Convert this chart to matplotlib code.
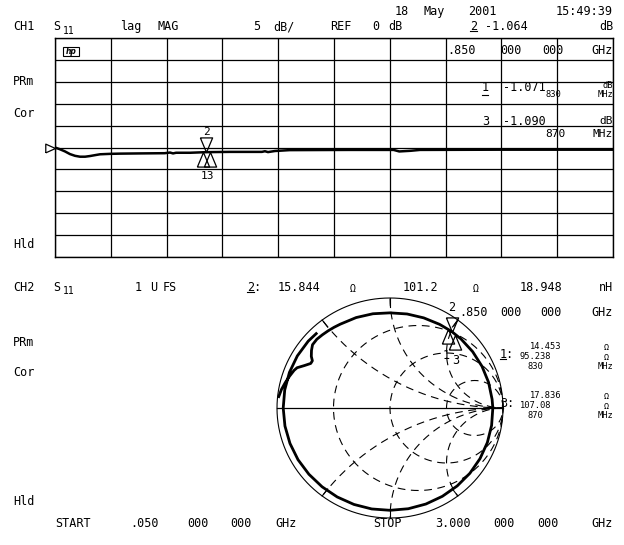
import numpy as np
import matplotlib
matplotlib.use("Agg")
import matplotlib.pyplot as plt
from matplotlib.lines import Line2D
from matplotlib.patches import Rectangle

W, H = 624, 545

# ---------------- data ----------------
# CH1: S11 log magnitude trace (GHz, dB)
freq_ghz = [0.05, 0.076, 0.103, 0.129, 0.156, 0.182, 0.209, 0.235, 0.261, 0.288,
            0.341, 0.394, 0.50, 0.63, 0.658, 0.674, 0.69, 0.764, 0.85, 0.975,
            1.144, 1.16, 1.176, 1.213, 1.29, 1.61, 1.84, 1.87, 1.93, 1.98, 2.40, 3.0]
s11_db = [0.0, -0.4, -0.9, -1.5, -1.9, -2.1, -2.1, -1.95, -1.75, -1.55,
          -1.45, -1.4, -1.35, -1.3, -1.15, -1.35, -1.2, -1.2, -1.06, -1.0,
          -1.0, -0.85, -1.05, -0.8, -0.6, -0.55, -0.55, -0.9, -0.75, -0.55, -0.5, -0.5]
f_start, f_stop = 0.05, 3.0
db_ref, db_per_div = 0.0, 5.0

marker_ids = ["1", "2", "3"]
marker_freq = [0.83, 0.85, 0.87]
marker_db = [-1.071, -1.064, -1.090]

# CH2: Smith chart trace (reflection coefficient angle in deg, magnitude)
smith_angle = [174, 170, 166, 162, 158, 156, 153, 150, 148, 146, 143, 140, 136, 132,
               128, 124, 120, 110, 100, 90, 80, 70, 60, 52, 45, 35, 25, 15, 5, 0,
               -10, -20, -30, -40, -50, -60, -70, -80, -90, -100, -110, -120, -130,
               -140, -150, -160, -170, -180, -190, -200, -210, -220, -226]
smith_mag = [0.99, 0.975, 0.955, 0.935, 0.915, 0.90, 0.85, 0.81, 0.81, 0.84, 0.87,
             0.895, 0.90, 0.895, 0.89, 0.885, 0.88, 0.875, 0.87, 0.865, 0.868, 0.872,
             0.878, 0.884, 0.888, 0.893, 0.898, 0.903, 0.907, 0.91, 0.913, 0.917,
             0.92, 0.923, 0.925, 0.927, 0.929, 0.93, 0.93, 0.932, 0.933, 0.934,
             0.935, 0.937, 0.94, 0.942, 0.944, 0.945, 0.946, 0.947, 0.947, 0.945, 0.94]
smith_marker_re = [0.513, 0.548, 0.578]
smith_marker_im = [0.720, 0.694, 0.666]

r_circles = [1 / 3, 1.0, 3.0]
x_arcs = [0.5, 1.0, 2.0]

# ---------------- figure ----------------
fig = plt.figure(figsize=(W / 100, H / 100), dpi=100)
fig.patch.set_facecolor("white")
FONT = "DejaVu Sans Mono"
FS = 8.5


def fx(x):
    return x / W


def fy(y):
    return 1 - y / H


def T(x, y, s, ha="left", size=FS):
    fig.text(fx(x), fy(y + 0.36 * size * 100 / 72), s, ha=ha, va="baseline",
             fontsize=size, family=FONT, color="black")


def U(x0, x1, y, lw=0.8):
    fig.add_artist(Line2D([fx(x0), fx(x1)], [fy(y), fy(y)], color="black", lw=lw))


def S11(x, y):
    T(x, y, "S")
    T(x + 10, y + 4, "11", size=7)


# ---------------- CH1 log mag grid ----------------
gx0, gx1, gy0, gy1 = 55, 613, 38, 257
ax = fig.add_axes([fx(gx0), fy(gy1), (gx1 - gx0) / W, (gy1 - gy0) / H])
ax.set_xlim(f_start, f_stop)
ax.set_ylim(db_ref - 5 * db_per_div, db_ref + 5 * db_per_div)
ax.set_xticks(np.linspace(f_start, f_stop, 11))
ax.set_yticks(np.arange(-5, 6) * db_per_div + db_ref)
ax.grid(True, color="black", lw=0.9)
ax.tick_params(length=0, labelbottom=False, labelleft=False)
for sp in ax.spines.values():
    sp.set_color("black")
    sp.set_linewidth(1.0)
ax.set_axisbelow(True)

ax.plot(freq_ghz, s11_db, color="black", lw=1.8, solid_joinstyle="round", zorder=3)

tri_down = [(-0.42, 1), (0.42, 1), (0, 0), (-0.42, 1)]
tri_up = [(-0.42, -1), (0.42, -1), (0, 0), (-0.42, -1)]
tri_ref = [(-1, -0.45), (-1, 0.45), (0, 0), (-1, -0.45)]
ax.plot([f_start], [db_ref], marker=tri_ref, ms=14, mfc="white", mec="black",
        mew=0.9, clip_on=False, zorder=4)
for mid, f, d in zip(marker_ids, marker_freq, marker_db):
    m = tri_down if mid == "2" else tri_up
    ax.plot([f], [d], marker=m, ms=21, mfc="none", mec="black", mew=0.9, zorder=5,
            clip_on=False)
ax.annotate("2", (0.85, -1.064), xytext=(0, 20), textcoords="offset pixels",
            ha="center", va="center", fontsize=8, family=FONT)
ax.annotate("13", (0.85, -1.064), xytext=(1, -24), textcoords="offset pixels",
            ha="center", va="center", fontsize=8, family=FONT)

# hp logo
fig.add_artist(Rectangle((fx(63), fy(56)), 16 / W, 9 / H, transform=fig.transFigure,
                         fill=False, lw=0.8, ec="black"))
fig.text(fx(71), fy(51.5), "hp", ha="center", va="center", fontsize=5.5,
         style="italic", weight="bold", family="DejaVu Sans")

# ---------------- CH1 text ----------------
T(395, 11, "18")
T(423, 11, "May")
T(468, 11, "2001")
T(613, 11, "15:49:39", ha="right")

T(13, 26, "CH1")
S11(53, 26)
T(120, 26, "lag")
T(158, 26, "MAG")
T(253, 26, "5")
T(273, 26, "dB/")
T(330, 26, "REF")
T(372, 26, "0")
T(388, 26, "dB")
T(470, 26, "2")
U(470, 477, 31)
T(485, 26, "-1.064")
T(613, 26, "dB", ha="right")

T(447, 49.5, ".850")
T(500, 49.5, "000")
T(542, 49.5, "000")
T(613, 49.5, "GHz", ha="right")

T(482, 87, "1")
U(482, 488, 95)
T(503, 87, "-1.071")
T(613, 84.5, "dB", ha="right", size=6.3)
T(545, 94, "830", size=6.3)
T(613, 94, "MHz", ha="right", size=6.3)

T(482, 120.5, "3")
T(503, 120.5, "-1.090")
T(613, 120, "dB", ha="right", size=8)
T(545, 133, "870", size=8)
T(613, 133, "MHz", ha="right", size=8)

T(13, 81, "PRm")
T(13, 113, "Cor")
T(13, 244, "Hld")

# ---------------- CH2 Smith chart ----------------
cx, cy, rx, ry = 390, 408, 113, 110
pad = 1.15
axs = fig.add_axes([fx(cx - pad * rx), fy(cy + pad * ry), 2 * pad * rx / W, 2 * pad * ry / H])
axs.set_xlim(-pad, pad)
axs.set_ylim(-pad, pad)
axs.axis("off")
axs.patch.set_visible(False)

th = np.linspace(0, 2 * np.pi, 720)
axs.plot(np.cos(th), np.sin(th), color="black", lw=0.8)
axs.plot([-1, 1], [0, 0], color="black", lw=0.9)

dash = (0, (7, 5))
for r in r_circles:
    c, rad = r / (1 + r), 1 / (1 + r)
    axs.plot(c + rad * np.cos(th), rad * np.sin(th), color="black", lw=0.8, ls=dash)
for xv in x_arcs:
    for sgn in (1, -1):
        ccx, ccy, rad = 1.0, sgn / xv, 1 / xv
        px = ccx + rad * np.cos(th)
        py = ccy + rad * np.sin(th)
        out = px ** 2 + py ** 2 > 1.0
        px = np.where(out, np.nan, px)
        py = np.where(out, np.nan, py)
        axs.plot(px, py, color="black", lw=0.8, ls=dash)
        ang = np.pi - 2 * np.arctan(xv)
        a = sgn * ang
        axs.plot([0.92 * np.cos(a), np.cos(a)], [0.92 * np.sin(a), np.sin(a)],
                 color="black", lw=0.8)

ang = np.deg2rad(np.array(smith_angle, dtype=float))
mag = np.array(smith_mag)
axs.plot(mag * np.cos(ang), mag * np.sin(ang), color="black", lw=2.0,
         solid_joinstyle="round")

for mid, re, im in zip(marker_ids, smith_marker_re, smith_marker_im):
    m = tri_down if mid == "2" else tri_up
    axs.plot([re], [im], marker=m, ms=21, mfc="none", mec="black", mew=0.9, zorder=5)

# ---------------- CH2 text ----------------
T(13, 287, "CH2")
S11(53, 287)
T(135, 287, "1")
T(150, 287, "U")
T(163, 287, "FS")
T(247, 287, "2:")
U(247, 254, 292)
T(278, 287, "15.844")
T(350, 288.5, "Ω", size=7)
T(403, 287, "101.2")
T(473, 288.5, "Ω", size=7)
T(520, 287, "18.948")
T(613, 287, "nH", ha="right")

T(459, 312, ".850")
T(500, 312, "000")
T(540, 312, "000")
T(613, 312, "GHz", ha="right")
T(448, 307, "2")

T(443, 355, "1")
T(452, 360, "3")

T(500, 354, "1:")
U(500, 506, 359)
T(530, 346, "14.453", size=6.3)
T(604, 347, "Ω", size=6)
T(520, 356, "95.238", size=6.3)
T(604, 357, "Ω", size=6)
T(527, 366, "830", size=6.3)
T(613, 366, "MHz", ha="right", size=6.3)

T(500, 403, "3:")
T(530, 395, "17.836", size=6.3)
T(604, 396, "Ω", size=6)
T(520, 405, "107.08", size=6.3)
T(604, 406, "Ω", size=6)
T(527, 415, "870", size=6.3)
T(613, 415, "MHz", ha="right", size=6.3)

T(13, 341.5, "PRm")
T(13, 372, "Cor")
T(13, 501, "Hld")

T(55, 523, "START")
T(130, 523, ".050")
T(187, 523, "000")
T(230, 523, "000")
T(297, 523, "GHz", ha="right")
T(373, 523, "STOP")
T(435, 523, "3.000")
T(493, 523, "000")
T(537, 523, "000")
T(613, 523, "GHz", ha="right")

fig.savefig("out.png", dpi=100, facecolor="white")
